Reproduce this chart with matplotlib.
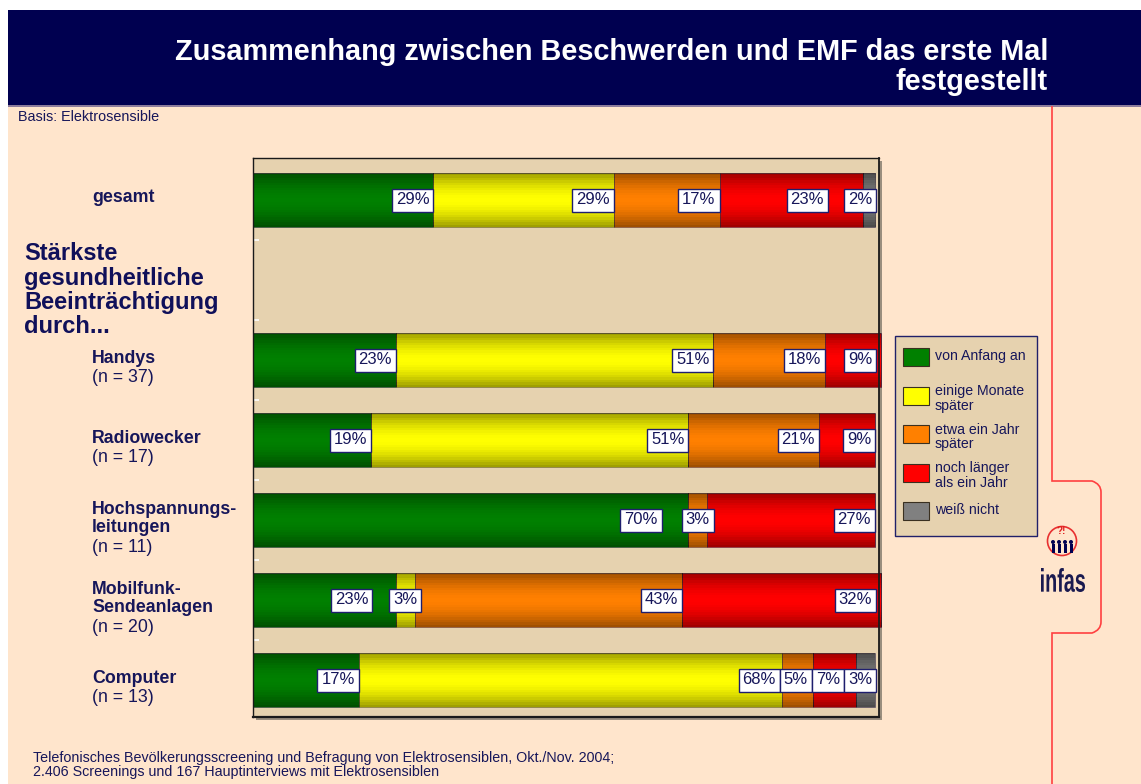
import matplotlib
matplotlib.use('Agg')
import matplotlib.pyplot as plt
import numpy as np
from matplotlib.patches import Rectangle, Ellipse, PathPatch
from matplotlib.path import Path
from matplotlib.textpath import TextPath
from matplotlib.font_manager import FontProperties
from matplotlib.transforms import Affine2D

plt.rcParams['font.family'] = ['Liberation Sans', 'DejaVu Sans']

# ---------------- data ----------------
title_lines = ["Zusammenhang zwischen Beschwerden und EMF das erste Mal", "festgestellt"]
basis_text = "Basis: Elektrosensible"
group_heading = ["Stärkste", "gesundheitliche", "Beeinträchtigung", "durch..."]
row_names = ["gesamt", "Handys", "Radiowecker", "Hochspannungs-\nleitungen",
             "Mobilfunk-\nSendeanlagen", "Computer"]
row_n = [None, "(n = 37)", "(n = 17)", "(n = 11)", "(n = 20)", "(n = 13)"]
series_names = ["von Anfang an", "einige Monate\nspäter", "etwa ein Jahr\nspäter",
                "noch länger\nals ein Jahr", "weiß nicht"]
von_anfang_an = [29, 23, 19, 70, 23, 17]
einige_monate = [29, 51, 51, 0, 3, 68]
ein_jahr_spaeter = [17, 18, 21, 3, 43, 5]
noch_laenger = [23, 9, 9, 27, 32, 7]
weiss_nicht = [2, 0, 0, 0, 0, 3]
footer_text = ("Telefonisches Bevölkerungsscreening und Befragung von Elektrosensiblen, Okt./Nov. 2004;\n"
               "2.406 Screenings und 167 Hauptinterviews mit Elektrosensiblen")
brand = "infas"

series = [von_anfang_an, einige_monate, ein_jahr_spaeter, noch_laenger, weiss_nicht]

# ---------------- style ----------------
W, H = 1141, 784
colors = ['#008000', '#FFFF00', '#FF8000', '#FF0000', '#7A7A7A']
navy = '#000050'
text_navy = '#16165A'
peach = '#FFE5CC'
beige = '#E6D2AF'
slots = [0, 2, 3, 4, 5, 6]
bar_h = 0.675
XMAX = 100.64
# manual label nudges in pixels (row, series)
label_nudge_px = {(0, 3): -16, (3, 0): -20, (4, 0): -17}


def fx(x):
    return x / W


def fy(y):
    return 1 - y / H


fig = plt.figure(figsize=(W / 100, H / 100), dpi=100)
fig.patch.set_facecolor('white')

# background
fig.add_artist(Rectangle((fx(8), 0), fx(W - 8), fy(10), transform=fig.transFigure,
                         facecolor=peach, edgecolor='none', zorder=-10))
fig.add_artist(Rectangle((fx(8), fy(105)), fx(W - 8), (105 - 10) / H, transform=fig.transFigure,
                         facecolor=navy, edgecolor='none', zorder=-9))
fig.add_artist(Rectangle((fx(8), fy(106.5)), fx(W - 8), 1.5 / H, transform=fig.transFigure,
                         facecolor='#8C7C9C', edgecolor='none', zorder=-9))

# red outline on the right
verts = [(1052, 106), (1052, 481), (1092, 481), (1101, 484), (1101, 492), (1101, 622),
         (1101, 630), (1092, 633), (1052, 633), (1052, 784)]
codes = [Path.MOVETO, Path.LINETO, Path.LINETO, Path.CURVE3, Path.CURVE3, Path.LINETO,
         Path.CURVE3, Path.CURVE3, Path.LINETO, Path.LINETO]
path = Path([(fx(x), fy(y)) for x, y in verts], codes)
fig.add_artist(PathPatch(path, transform=fig.transFigure, facecolor='none',
                         edgecolor='#FF4040', lw=1.2, zorder=-5))

# title
fig.text(fx(1048), fy(52), title_lines[0], ha='right', va='center', color='white',
         fontsize=20.8, fontweight='bold')
fig.text(fx(1048), fy(82), title_lines[1], ha='right', va='center', color='white',
         fontsize=20.8, fontweight='bold')
fig.text(fx(18), fy(117), basis_text, ha='left', va='center', color=text_navy, fontsize=10.4)
fig.text(fx(33), fy(765), footer_text, ha='left', va='center', color=text_navy, fontsize=10.3,
         linespacing=1.0)

# plot area shadow
fig.add_artist(Rectangle((fx(256), fy(720)), fx(626), 559 / H, transform=fig.transFigure,
                         facecolor='#9A8E7E', edgecolor='none', zorder=-2))

ax = fig.add_axes([fx(253), fy(717), fx(626), 559 / H])
ax.set_facecolor(beige)
for s in ax.spines.values():
    s.set_color('#1A1A1A')
    s.set_linewidth(1.0)
ax.spines['bottom'].set_linewidth(1.6)
ax.spines['right'].set_linewidth(1.3)

# bars
lefts = np.zeros(len(slots))
shade_t = np.linspace(-1, 1, 22)
shade = np.zeros((len(shade_t), 1, 4))
shade[:, 0, 3] = 0.38 * np.abs(shade_t) ** 1.8
for i, vals in enumerate(series):
    bc = ax.barh(slots, vals, left=lefts, height=bar_h, color=colors[i],
                 edgecolor=(0.15, 0.1, 0.25, 0.55), linewidth=0.6, zorder=2)
    for p in bc.patches:
        p.set_clip_on(False)
        if p.get_width() > 0:
            x0, y0, w, h = p.get_x(), p.get_y(), p.get_width(), p.get_height()
            im = ax.imshow(shade, extent=(x0, x0 + w, y0 + h, y0), aspect='auto',
                           interpolation='nearest', zorder=2.5)
            im.set_clip_on(False)
    lefts = lefts + np.array(vals)

ax.set_xlim(0, XMAX)
ax.set_ylim(6.4625, -0.525)
ax.set_xticks([])
ax.set_yticks([0.5, 1.5, 2.5, 3.5, 4.5, 5.5])
ax.set_yticklabels([])
ax.tick_params(axis='y', direction='in', length=4, width=1.2, color='white')

# value labels
texts = {}
cum = np.zeros(len(slots))
seg = {}
for i, vals in enumerate(series):
    for r, v in enumerate(vals):
        seg[(r, i)] = (cum[r], cum[r] + v)
        if v > 0:
            t = ax.text(cum[r] + v, slots[r], f"{v}%", ha='right', va='center',
                        fontsize=12, color=text_navy, zorder=6, clip_on=False,
                        bbox=dict(boxstyle='square,pad=0.24', fc='white', ec='#1E1E6E', lw=1.0))
            texts[(r, i)] = t
    cum = cum + np.array(vals)

fig.canvas.draw()
renderer = fig.canvas.get_renderer()
du = XMAX / 626.0
for r in range(len(slots)):
    keys = [(r, i) for i in range(len(series)) if (r, i) in texts]
    info = []
    for k in keys:
        t = texts[k]
        tw = t.get_window_extent(renderer).width
        bw = t.get_bbox_patch().get_window_extent(renderer).width
        info.append([k, tw * du, bw * du])
    rights = []
    for k, tw, bw in info:
        a, b = seg[k]
        if b - a < bw:
            right = (a + b) / 2 + bw / 2
        else:
            right = b
        right = min(right, 100.2)
        rights.append(right)
    for j in range(len(info) - 2, -1, -1):
        nxt_left = rights[j + 1] - info[j + 1][2]
        if rights[j] > nxt_left:
            rights[j] = nxt_left
    for j, (k, tw, bw) in enumerate(info):
        right = rights[j] + label_nudge_px.get(k, 0) * du
        pad = (bw - tw) / 2
        texts[k].set_x(right - pad)

# row labels
for r, name in enumerate(row_names):
    lines = name.split('\n')
    weights = ['bold'] * len(lines)
    if row_n[r] is not None:
        lines = lines + [row_n[r]]
        weights = weights + ['normal']
        first = 8 - (len(lines) - 1) * 9.5
    else:
        first = -3
    for j, (ln, wt) in enumerate(zip(lines, weights)):
        dy = first + 19 * j
        ax.annotate(ln, xy=(92, slots[r]), xycoords=('figure pixels', 'data'),
                    xytext=(0, -dy), textcoords='offset pixels', ha='left', va='center',
                    fontsize=12.8, fontweight=wt, color=text_navy, annotation_clip=False)

for j, ln in enumerate(group_heading):
    fig.text(fx(24), fy(254 + 24 * j), ln, ha='left', va='center', fontsize=17,
             fontweight='bold', color='#10105A')

# legend (manual)
fig.add_artist(Rectangle((fx(895), fy(536)), fx(142), 200 / H, transform=fig.transFigure,
                         facecolor=beige, edgecolor='#20206A', lw=1.0, zorder=3))
for i, nm in enumerate(series_names):
    cy = 357 + 38.5 * i
    fig.add_artist(Rectangle((fx(903), fy(cy + 9)), fx(26), 18 / H, transform=fig.transFigure,
                             facecolor=colors[i] if i != 4 else '#808080',
                             edgecolor='#3A3020', lw=0.8, zorder=4))
    off = 3 if '\n' in nm else -1
    fig.text(fx(935), fy(cy + off), nm, ha='left', va='center', fontsize=10.2,
             color=text_navy, linespacing=1.05, zorder=5)

# logo
fig.add_artist(Ellipse((fx(1062), fy(541)), 29 / W, 29 / H, transform=fig.transFigure,
                       facecolor='none', edgecolor='#E83030', lw=1.2))
fig.text(fx(1061), fy(531), "?!", ha='center', va='center', fontsize=7, fontweight='bold',
         color='#E02020')
for px_ in [1053, 1059, 1065, 1071]:
    fig.add_artist(Ellipse((fx(px_), fy(542)), 4 / W, 4 / H, transform=fig.transFigure,
                           facecolor=navy, edgecolor='none'))
    fig.add_artist(Rectangle((fx(px_ - 1.5), fy(553)), 3 / W, 9 / H, transform=fig.transFigure,
                             facecolor=navy, edgecolor='none'))
tp = TextPath((0, 0), brand, size=20, prop=FontProperties(family='Liberation Sans', weight='bold'))
ext = tp.get_extents()
trans = (Affine2D().translate(-ext.x0, -ext.y0)
         .scale(44 / ext.width, 24 / ext.height)
         .translate(1041, H - 592)
         .scale(1 / W, 1 / H))
fig.add_artist(PathPatch(trans.transform_path(tp), transform=fig.transFigure,
                         facecolor='#1A1A50', edgecolor='none'))

fig.savefig('out.png', dpi=100, facecolor=fig.get_facecolor())
